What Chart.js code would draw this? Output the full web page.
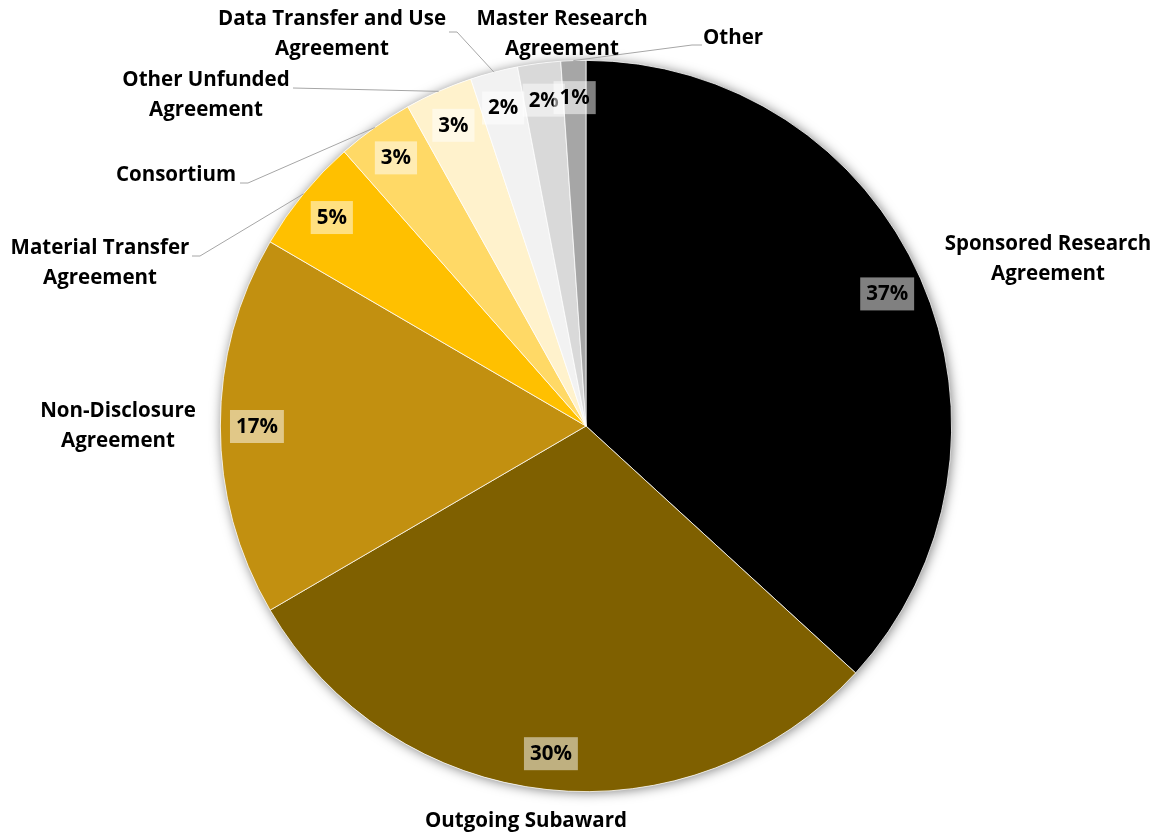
<!DOCTYPE html>
<html lang="en">
<head>
    <meta charset="UTF-8">
    <title>Agreement Types</title>
    <script src="https://cdn.jsdelivr.net/npm/chart.js"></script>
    <style>
        html, body { margin: 0; padding: 0; background: #fff; }
        #wrap { width: 1155px; height: 835px; }
    </style>
</head>
<body>
    <div id="wrap"><canvas id="pie"></canvas></div>

    <script>
        // data (percent of all agreements)
        const categories = [
            ['Sponsored Research', 'Agreement'],
            ['Outgoing Subaward'],
            ['Non-Disclosure', 'Agreement'],
            ['Material Transfer', 'Agreement'],
            ['Consortium'],
            ['Other Unfunded', 'Agreement'],
            ['Data Transfer and Use', 'Agreement'],
            ['Master Research', 'Agreement'],
            ['Other']
        ];
        const shares = [36.8, 29.8, 16.8, 5.1, 3.4, 3.0, 2.1, 1.9, 1.1];
        const colors = ['#000000', '#7F6000', '#C29010', '#FFC000', '#FFD966',
                        '#FFF2CC', '#F2F2F2', '#D9D9D9', '#A6A6A6'];

        // where the category names sit (centre of first line) and leader elbows
        const labelSpots = [
            [1048, 244], [526, 821], [118, 411], [100, 248], [176, 175],
            [206, 80], [332, 19], [562, 19], [733, 38]
        ];
        const leaders = [
            null, null, null,
            [[192, 256], [200, 256]],
            [[240, 183], [248, 183]],
            [[293, 88]],
            [[449, 32], [457, 32]],
            null,
            [[702, 45], [692, 45]]
        ];

        const FONT = 'bold 20.5px "Open Sans", "Liberation Sans", sans-serif';
        const PCT_FONT = 'bold 20.5px "Open Sans", "Liberation Sans", sans-serif';
        const LINE_H = 30;

        const pieDecor = {
            id: 'pieDecor',
            beforeDatasetsDraw(chart) {
                const a = chart.getDatasetMeta(0).data[0];
                const ctx = chart.ctx;
                ctx.save();
                ctx.beginPath();
                ctx.arc(a.x, a.y, a.outerRadius, 0, Math.PI * 2);
                ctx.shadowColor = 'rgba(0,0,0,0.5)';
                ctx.shadowBlur = 12;
                ctx.shadowOffsetX = 1;
                ctx.shadowOffsetY = 1;
                ctx.fillStyle = '#fff';
                ctx.fill();
                ctx.restore();
            },
            afterDatasetsDraw(chart) {
                const ctx = chart.ctx;
                const arcs = chart.getDatasetMeta(0).data;
                ctx.save();
                ctx.textAlign = 'center';
                ctx.textBaseline = 'middle';

                arcs.forEach((a, i) => {
                    const mid = (a.startAngle + a.endAngle) / 2;
                    // leader line
                    if (leaders[i]) {
                        ctx.beginPath();
                        ctx.strokeStyle = '#A6A6A6';
                        ctx.lineWidth = 1;
                        leaders[i].forEach((p, k) => k ? ctx.lineTo(p[0], p[1]) : ctx.moveTo(p[0], p[1]));
                        ctx.lineTo(a.x + Math.cos(mid) * a.outerRadius, a.y + Math.sin(mid) * a.outerRadius);
                        ctx.stroke();
                    }
                });

                // percent boxes
                ctx.font = PCT_FONT;
                arcs.forEach((a, i) => {
                    const mid = (a.startAngle + a.endAngle) / 2;
                    const r = a.outerRadius * 0.9;
                    const px = a.x + Math.cos(mid) * r;
                    const py = a.y + Math.sin(mid) * r;
                    const txt = Math.round(shares[i]) + '%';
                    const w = ctx.measureText(txt).width + 12;
                    ctx.fillStyle = 'rgba(255,255,255,0.5)';
                    ctx.fillRect(px - w / 2, py - 16, w, 33);
                    ctx.fillStyle = '#000';
                    ctx.fillText(txt, px, py + 1);
                });

                // category names
                ctx.font = FONT;
                categories.forEach((lines, i) => {
                    const [lx, ly] = labelSpots[i];
                    lines.forEach((t, k) => {
                        ctx.fillStyle = '#000';
                        ctx.fillText(t, lx, ly + k * LINE_H);
                    });
                });
                ctx.restore();
            }
        };

        new Chart(document.getElementById('pie'), {
            type: 'pie',
            data: {
                labels: categories,
                datasets: [{
                    data: shares,
                    backgroundColor: colors,
                    borderColor: '#ffffff',
                    borderWidth: 0.75
                }]
            },
            options: {
                responsive: true,
                maintainAspectRatio: false,
                animation: false,
                layout: { padding: { left: 17, right: 0, top: 60, bottom: 43 } },
                plugins: {
                    legend: { display: false },
                    tooltip: { enabled: false }
                }
            },
            plugins: [pieDecor]
        });
    </script>
</body>
</html>
